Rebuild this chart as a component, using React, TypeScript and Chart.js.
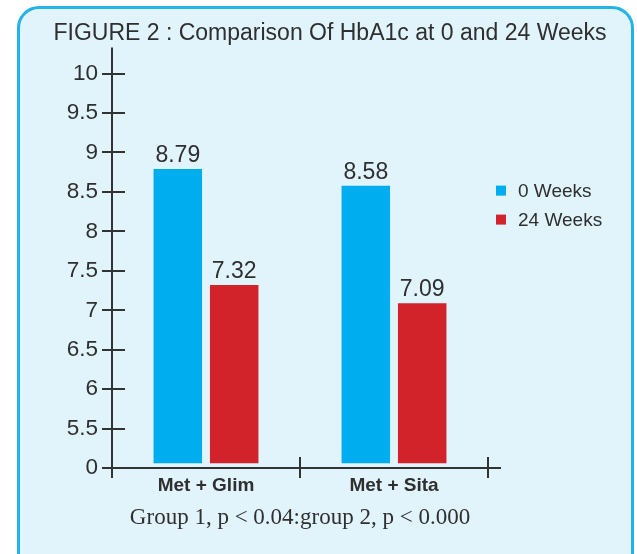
import React, { useEffect, useRef } from 'react';
import { Chart, registerables } from 'chart.js';

Chart.register(...registerables);

const titleText = 'FIGURE 2 : Comparison Of HbA1c at 0 and 24 Weeks';
const captionText = 'Group 1, p < 0.04:group 2, p < 0.000';
const categories = ['Met + Glim', 'Met + Sita'];
const seriesLabels = ['0 Weeks', '24 Weeks'];
const week0Values = [8.79, 8.58];
const week24Values = [7.32, 7.09];
const yTickLabels = ['0', '5.5', '6', '6.5', '7', '7.5', '8', '8.5', '9', '9.5', '10'];

const SANS = '"Liberation Sans", Arial, sans-serif';
const SERIF = '"Liberation Serif", "Times New Roman", serif';
const TEXT = '#2f2f2f';
const AXIS = '#333333';
const BLUE = '#00AEEF';
const RED = '#D2232A';

const axesPlugin = {
  id: 'crossAxes',
  afterDraw(chart: any) {
    const { ctx, chartArea } = chart;
    const x = chart.scales.x;
    const y = chart.scales.y;
    ctx.save();
    ctx.strokeStyle = AXIS;
    ctx.lineWidth = 2;
    ctx.beginPath();
    ctx.moveTo(chartArea.left, chartArea.top - 26);
    ctx.lineTo(chartArea.left, chartArea.bottom + 8);
    ctx.moveTo(chartArea.left - 9, chartArea.bottom);
    ctx.lineTo(chartArea.right + 13, chartArea.bottom);
    y.ticks.forEach((t: any) => {
      const py = Math.round(y.getPixelForValue(t.value));
      ctx.moveTo(chartArea.left - 10, py);
      ctx.lineTo(chartArea.left + 13, py);
    });
    for (let i = 0; i <= categories.length; i++) {
      const px = Math.round(x.getPixelForValue(i - 0.5));
      ctx.moveTo(px, chartArea.bottom - 11);
      ctx.lineTo(px, chartArea.bottom + 10);
    }
    ctx.stroke();
    ctx.restore();
  },
};

const valueLabelPlugin = {
  id: 'valueLabels',
  afterDatasetsDraw(chart: any) {
    const { ctx } = chart;
    ctx.save();
    ctx.font = `23px ${SANS}`;
    ctx.fillStyle = TEXT;
    ctx.textAlign = 'center';
    ctx.textBaseline = 'alphabetic';
    chart.data.datasets.forEach((ds: any, di: number) => {
      const meta = chart.getDatasetMeta(di);
      meta.data.forEach((el: any, i: number) => {
        ctx.fillText(Number(ds.data[i]).toFixed(2), el.x, el.y - 7);
      });
    });
    ctx.restore();
  },
};

const legendPlugin = {
  id: 'sideLegend',
  afterDraw(chart: any) {
    const { ctx, chartArea } = chart;
    ctx.save();
    ctx.font = `19px ${SANS}`;
    ctx.textAlign = 'left';
    ctx.textBaseline = 'middle';
    chart.data.datasets.forEach((ds: any, i: number) => {
      const cy = chartArea.top + 117 + i * 29;
      const sx = chartArea.right + 8;
      ctx.fillStyle = ds.backgroundColor;
      ctx.fillRect(sx, cy - 5, 10, 10);
      ctx.fillStyle = TEXT;
      ctx.fillText(ds.label, sx + 22, cy + 1);
    });
    ctx.restore();
  },
};

function BarChart() {
  const ref = useRef<HTMLCanvasElement | null>(null);
  useEffect(() => {
    if (!ref.current) return;
    const chart = new Chart(ref.current, {
      type: 'bar',
      data: {
        labels: categories,
        datasets: [
          {
            label: seriesLabels[0],
            data: week0Values,
            backgroundColor: BLUE,
            categoryPercentage: 0.6,
            barPercentage: 0.86,
            base: 5.06,
          },
          {
            label: seriesLabels[1],
            data: week24Values,
            backgroundColor: RED,
            categoryPercentage: 0.6,
            barPercentage: 0.86,
            base: 5.06,
          },
        ],
      } as any,
      options: {
        responsive: false,
        animation: false,
        layout: { padding: { left: 23, right: 0, top: 0, bottom: 0 } },
        plugins: {
          legend: { display: false },
          tooltip: { enabled: false },
          title: {
            display: true,
            text: titleText,
            color: TEXT,
            font: { family: SANS, size: 23, weight: 'normal' },
            padding: { top: 20, bottom: 26 },
          },
        },
        scales: {
          x: {
            type: 'category',
            offset: true,
            grid: { display: false, drawTicks: false, offset: true },
            border: { display: false },
            ticks: {
              color: TEXT,
              font: { family: SANS, size: 19, weight: 'bold' },
              padding: 6.5,
            },
            title: {
              display: true,
              text: captionText,
              color: TEXT,
              font: { family: SERIF, size: 23 },
              padding: { top: 0, bottom: 22.5 },
            },
          },
          y: {
            type: 'linear',
            min: 5,
            max: 10,
            afterFit: (s: any) => {
              s.width = 89;
            },
            grid: { display: false, drawTicks: false },
            border: { display: false },
            ticks: {
              stepSize: 0.5,
              color: TEXT,
              font: { family: SANS, size: 22.5 },
              padding: 14,
              callback: (_v: any, i: number) => yTickLabels[i],
            },
          },
          yR: {
            type: 'linear',
            position: 'right',
            display: true,
            afterFit: (s: any) => {
              s.width = 149;
            },
            grid: { display: false, drawTicks: false },
            border: { display: false },
            ticks: { display: false },
          },
        },
      } as any,
      plugins: [axesPlugin, valueLabelPlugin, legendPlugin],
    });
    return () => chart.destroy();
  }, []);
  return (
    <canvas
      ref={ref}
      width={637}
      height={554}
      style={{ position: 'absolute', left: 0, top: 0, width: 637, height: 554 }}
    />
  );
}

export default function App() {
  useEffect(() => {
    document.body.style.margin = '0';
  }, []);
  return (
    <div style={{ position: 'relative', width: 637, height: 554, overflow: 'hidden', background: '#ffffff' }}>
      <div
        style={{
          position: 'absolute',
          left: 17,
          top: 6,
          width: 617,
          height: 600,
          boxSizing: 'border-box',
          border: '3px solid #22b4e8',
          borderRadius: 22,
          background: '#e1f3fb',
        }}
      />
      <BarChart />
    </div>
  );
}
